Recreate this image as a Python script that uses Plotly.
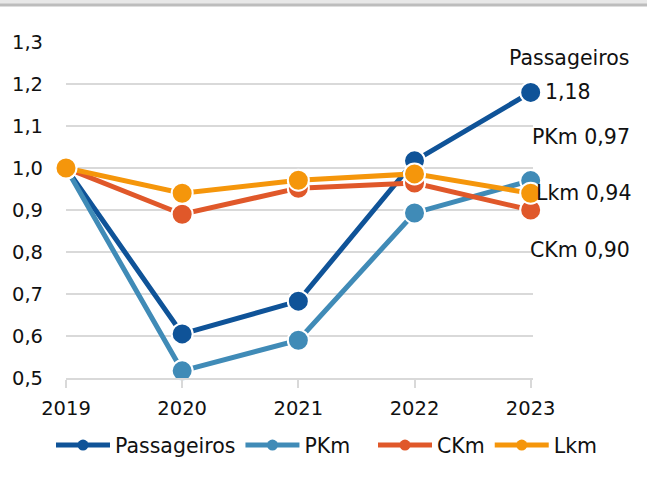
import plotly.graph_objects as go

years = ["2019", "2020", "2021", "2022", "2023"]
passageiros = [1.00, 0.605, 0.683, 1.017, 1.18]
pkm = [1.00, 0.517, 0.590, 0.893, 0.97]
ckm = [1.00, 0.890, 0.952, 0.964, 0.90]
lkm = [1.00, 0.940, 0.971, 0.986, 0.94]

series = [
    ("Passageiros", passageiros, "#0F5398", "legend"),
    ("PKm", pkm, "#408BB7", "legend"),
    ("CKm", ckm, "#E0582A", "legend2"),
    ("Lkm", lkm, "#F5960B", "legend2"),
]

TICK_FONT = dict(family="DejaVu Sans", size=19.5, color="#111111")
LABEL_FONT = dict(family="DejaVu Sans", size=20.5, color="#111111")


def fmt(v):
    return f"{v:.2f}".replace(".", ",")


fig = go.Figure()

# plotted series (large markers), drawn back to front
for name, vals, color, _ in series:
    fig.add_trace(go.Scatter(
        x=years, y=vals, mode="lines+markers", name=name,
        legendgroup=name, showlegend=False, cliponaxis=False,
        line=dict(color=color, width=5),
        marker=dict(size=21, color=color, line=dict(color="white", width=2)),
    ))

# legend entries with small markers, split over two legend boxes in one row
for name, vals, color, leg in series:
    fig.add_trace(go.Scatter(
        x=[None], y=[None], mode="lines+markers", name=name,
        legendgroup=name, showlegend=True, legend=leg,
        line=dict(color=color, width=5),
        marker=dict(size=11, color=color),
    ))

# end-of-line value labels
fig.add_annotation(x=4, y=1.262, xref="x", yref="y", text="Passageiros",
                   showarrow=False, xanchor="right", xshift=100, font=LABEL_FONT)
fig.add_annotation(x=4, y=passageiros[-1], xref="x", yref="y",
                   text=fmt(passageiros[-1]),
                   showarrow=False, xanchor="left", xshift=12, font=LABEL_FONT)
fig.add_annotation(x=4, y=1.074, xref="x", yref="y",
                   text="PKm " + fmt(pkm[-1]),
                   showarrow=False, xanchor="right", xshift=101, font=LABEL_FONT)
fig.add_annotation(x=4, y=lkm[-1], xref="x", yref="y",
                   text="Lkm " + fmt(lkm[-1]),
                   showarrow=False, xanchor="right", xshift=102, font=LABEL_FONT)
fig.add_annotation(x=4, y=0.805, xref="x", yref="y",
                   text="CKm " + fmt(ckm[-1]),
                   showarrow=False, xanchor="right", xshift=101, font=LABEL_FONT)

# reference line at 1,0
fig.add_shape(type="line", xref="paper", yref="y", x0=0, x1=1, y0=1.0, y1=1.0,
              line=dict(color="#8C8C8C", width=1.5), layer="below")

# frame strip along the top edge
fig.add_shape(type="rect", xref="paper", yref="paper", x0=-0.15, x1=1.26,
              y0=1.110, y1=1.14, fillcolor="#E8E8E8", line=dict(width=0))
fig.add_shape(type="line", xref="paper", yref="paper", x0=-0.15, x1=1.26,
              y0=1.110, y1=1.110, line=dict(color="#BDBDBD", width=3))

legend_style = dict(orientation="h", xref="container", xanchor="left",
                    yref="container", y=0.095, yanchor="middle",
                    font=LABEL_FONT, itemwidth=54, tracegroupgap=0,
                    bgcolor="rgba(0,0,0,0)")

fig.update_layout(
    width=647, height=492,
    margin=dict(l=66, r=114, t=42, b=114, autoexpand=False),
    paper_bgcolor="white", plot_bgcolor="white",
    separators=",.",
    showlegend=True,
    legend=dict(x=51 / 647, **legend_style),
    legend2=dict(x=373 / 647, **legend_style),
    xaxis=dict(type="category", range=[0, 4.02], showgrid=False,
               showline=True, linecolor="#D9D9D9", linewidth=1.5,
               ticks="outside", ticklen=8, tickcolor="#D9D9D9",
               tickwidth=1.5, tickson="labels", tickfont=TICK_FONT,
               ticklabelstandoff=4, automargin=False, fixedrange=True),
    yaxis=dict(range=[0.5, 1.3], dtick=0.1, tickformat=".1f",
               showgrid=True, gridcolor="#D9D9D9", gridwidth=1.5,
               zeroline=False, showline=False, ticks="",
               tickfont=TICK_FONT, ticklabelstandoff=22, automargin=False),
)

fig.write_html("out.html")
